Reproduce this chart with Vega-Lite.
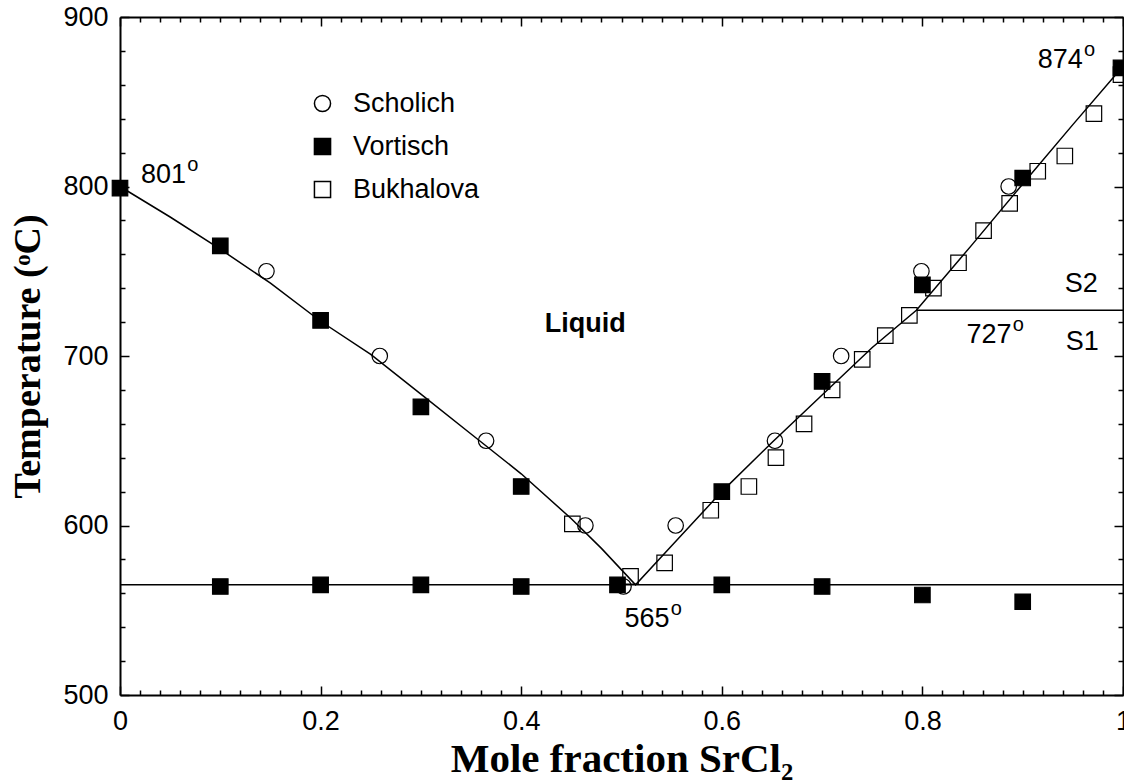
{
  "$schema": "https://vega.github.io/schema/vega-lite/v6.json",
  "width": 1003,
  "height": 678,
  "autosize": "none",
  "padding": {"left": 120, "top": 17, "right": 1, "bottom": 85},
  "background": "white",
  "config": {"view": {"stroke": null}},
  "datasets": {
    "liquidus": [
      {"x": 0, "t": 800}, {"x": 0.05, "t": 782}, {"x": 0.1, "t": 763}, {"x": 0.15, "t": 743},
      {"x": 0.2, "t": 720.5}, {"x": 0.25, "t": 701}, {"x": 0.3, "t": 677.5}, {"x": 0.35, "t": 654},
      {"x": 0.4, "t": 630.5}, {"x": 0.45, "t": 604}, {"x": 0.48, "t": 586.5}, {"x": 0.514, "t": 565},
      {"x": 0.55, "t": 588}, {"x": 0.6, "t": 620}, {"x": 0.65, "t": 649}, {"x": 0.7, "t": 677},
      {"x": 0.75, "t": 705}, {"x": 0.794, "t": 727}, {"x": 0.85, "t": 766}, {"x": 0.9, "t": 801.5},
      {"x": 0.95, "t": 836.5}, {"x": 1, "t": 871}
    ],
    "segments": [
      {"x": 0, "x2": 1, "t": 565},
      {"x": 0.794, "x2": 1, "t": 727}
    ],
    "points": [
      {"source": "Scholich", "x": 0.146, "t": 750},
      {"source": "Scholich", "x": 0.259, "t": 700},
      {"source": "Scholich", "x": 0.365, "t": 650},
      {"source": "Scholich", "x": 0.464, "t": 600},
      {"source": "Scholich", "x": 0.502, "t": 564},
      {"source": "Scholich", "x": 0.554, "t": 600},
      {"source": "Scholich", "x": 0.653, "t": 650},
      {"source": "Scholich", "x": 0.719, "t": 700},
      {"source": "Scholich", "x": 0.799, "t": 750},
      {"source": "Scholich", "x": 0.886, "t": 800},
      {"source": "Vortisch", "x": 0, "t": 799},
      {"source": "Vortisch", "x": 0.1, "t": 765},
      {"source": "Vortisch", "x": 0.2, "t": 721},
      {"source": "Vortisch", "x": 0.3, "t": 670},
      {"source": "Vortisch", "x": 0.4, "t": 623},
      {"source": "Vortisch", "x": 0.6, "t": 620},
      {"source": "Vortisch", "x": 0.7, "t": 685},
      {"source": "Vortisch", "x": 0.8, "t": 742},
      {"source": "Vortisch", "x": 0.9, "t": 805},
      {"source": "Vortisch", "x": 0.998, "t": 870},
      {"source": "Vortisch", "x": 0.1, "t": 564},
      {"source": "Vortisch", "x": 0.2, "t": 565},
      {"source": "Vortisch", "x": 0.3, "t": 565},
      {"source": "Vortisch", "x": 0.4, "t": 564},
      {"source": "Vortisch", "x": 0.496, "t": 565},
      {"source": "Vortisch", "x": 0.6, "t": 565},
      {"source": "Vortisch", "x": 0.7, "t": 564},
      {"source": "Vortisch", "x": 0.8, "t": 559},
      {"source": "Vortisch", "x": 0.9, "t": 555},
      {"source": "Bukhalova", "x": 0.451, "t": 601},
      {"source": "Bukhalova", "x": 0.509, "t": 570},
      {"source": "Bukhalova", "x": 0.543, "t": 578},
      {"source": "Bukhalova", "x": 0.589, "t": 609},
      {"source": "Bukhalova", "x": 0.627, "t": 623},
      {"source": "Bukhalova", "x": 0.654, "t": 640},
      {"source": "Bukhalova", "x": 0.682, "t": 660},
      {"source": "Bukhalova", "x": 0.71, "t": 680},
      {"source": "Bukhalova", "x": 0.74, "t": 698},
      {"source": "Bukhalova", "x": 0.763, "t": 712},
      {"source": "Bukhalova", "x": 0.787, "t": 724},
      {"source": "Bukhalova", "x": 0.811, "t": 740},
      {"source": "Bukhalova", "x": 0.836, "t": 755},
      {"source": "Bukhalova", "x": 0.861, "t": 774},
      {"source": "Bukhalova", "x": 0.887, "t": 790},
      {"source": "Bukhalova", "x": 0.915, "t": 809},
      {"source": "Bukhalova", "x": 0.942, "t": 818},
      {"source": "Bukhalova", "x": 0.971, "t": 843},
      {"source": "Bukhalova", "x": 0.998, "t": 866}
    ],
    "labels": [
      {"x": 0.021, "t": 802, "label": "801"},
      {"x": 0.915, "t": 870, "label": "874"},
      {"x": 0.503, "t": 540.3, "label": "565"},
      {"x": 0.844, "t": 707.7, "label": "727"},
      {"x": 0.942, "t": 737.8, "label": "S2"},
      {"x": 0.943, "t": 703.5, "label": "S1"}
    ],
    "degrees": [
      {"x": 0.0671, "t": 802, "label": "o"},
      {"x": 0.9611, "t": 870, "label": "o"},
      {"x": 0.5491, "t": 540.3, "label": "o"},
      {"x": 0.8901, "t": 707.7, "label": "o"}
    ],
    "liquid": [
      {"x": 0.4234, "t": 714.2, "label": "Liquid"}
    ]
  },
  "resolve": {"axis": {"x": "independent", "y": "independent"}},
  "layer": [
    {
      "data": {"name": "liquidus"},
      "mark": {"type": "line", "color": "black", "strokeWidth": 1.5},
      "encoding": {
        "x": {
          "field": "x", "type": "quantitative",
          "scale": {"domain": [0, 1], "nice": false, "zero": false},
          "axis": {
            "orient": "bottom",
            "values": [0,0.02,0.04,0.06,0.08,0.1,0.12,0.14,0.16,0.18,0.2,0.22,0.24,0.26,0.28,0.3,0.32,0.34,0.36,0.38,0.4,0.42,0.44,0.46,0.48,0.5,0.52,0.54,0.56,0.58,0.6,0.62,0.64,0.66,0.68,0.7,0.72,0.74,0.76,0.78,0.8,0.82,0.84,0.86,0.88,0.9,0.92,0.94,0.96,0.98,1],
            "labelExpr": "abs(datum.value*5-round(datum.value*5))<0.000001 ? format(datum.value, '~g') : ''",
            "tickSize": {"condition": {"test": "abs(datum.value*5-round(datum.value*5))<0.000001", "value": -9}, "value": -5},
            "tickWidth": 1.5, "tickColor": "black",
            "domain": true, "domainColor": "black", "domainWidth": 2,
            "grid": false,
            "labelFont": "Liberation Sans", "labelFontSize": 27, "labelColor": "black",
            "labelPadding": 22, "labelFlush": false, "labelOverlap": false, "labelBound": false,
            "title": "Mole fraction SrCl₂",
            "titleFont": "Liberation Serif", "titleFontSize": 41, "titleFontWeight": "bold", "titleColor": "black",
            "titlePadding": 1
          }
        },
        "y": {
          "field": "t", "type": "quantitative",
          "scale": {"domain": [500, 900], "nice": false, "zero": false},
          "axis": {
            "orient": "left",
            "values": [500,520,540,560,580,600,620,640,660,680,700,720,740,760,780,800,820,840,860,880,900],
            "labelExpr": "datum.value % 100 === 0 ? format(datum.value, 'd') : ''",
            "tickSize": {"condition": {"test": "datum.value % 100 === 0", "value": -9}, "value": -5},
            "tickWidth": 1.5, "tickColor": "black",
            "domain": true, "domainColor": "black", "domainWidth": 2,
            "grid": false,
            "labelFont": "Liberation Sans", "labelFontSize": 27, "labelColor": "black",
            "labelPadding": 21, "labelFlush": false, "labelOverlap": false, "labelBound": false,
            "title": "Temperature (ᵒC)",
            "titleFont": "Liberation Serif", "titleFontSize": 38, "titleFontWeight": "bold", "titleColor": "black",
            "titlePadding": 15
          }
        }
      }
    },
    {
      "data": {"name": "segments"},
      "mark": {"type": "rule", "color": "black", "strokeWidth": 1.5},
      "encoding": {
        "x": {"field": "x", "type": "quantitative", "scale": {"domain": [0, 1]}, "axis": null},
        "x2": {"field": "x2"},
        "y": {"field": "t", "type": "quantitative", "scale": {"domain": [500, 900]}, "axis": null}
      }
    },
    {
      "data": {"name": "points"},
      "mark": {"type": "point", "filled": true, "opacity": 1, "stroke": "black", "strokeWidth": 1.2, "size": 240},
      "encoding": {
        "x": {
          "field": "x", "type": "quantitative", "scale": {"domain": [0, 1]},
          "axis": {
            "orient": "top",
            "values": [0,0.02,0.04,0.06,0.08,0.1,0.12,0.14,0.16,0.18,0.2,0.22,0.24,0.26,0.28,0.3,0.32,0.34,0.36,0.38,0.4,0.42,0.44,0.46,0.48,0.5,0.52,0.54,0.56,0.58,0.6,0.62,0.64,0.66,0.68,0.7,0.72,0.74,0.76,0.78,0.8,0.82,0.84,0.86,0.88,0.9,0.92,0.94,0.96,0.98,1],
            "labels": false, "title": null, "grid": false,
            "tickSize": {"condition": {"test": "abs(datum.value*5-round(datum.value*5))<0.000001", "value": -9}, "value": -5},
            "tickWidth": 1.5, "tickColor": "black",
            "domain": true, "domainColor": "black", "domainWidth": 2
          }
        },
        "y": {
          "field": "t", "type": "quantitative", "scale": {"domain": [500, 900]},
          "axis": {
            "orient": "right",
            "values": [500,520,540,560,580,600,620,640,660,680,700,720,740,760,780,800,820,840,860,880,900],
            "labels": false, "title": null, "grid": false,
            "tickSize": {"condition": {"test": "datum.value % 100 === 0", "value": -9}, "value": -5},
            "tickWidth": 1.5, "tickColor": "black",
            "domain": true, "domainColor": "black", "domainWidth": 2
          }
        },
        "shape": {
          "field": "source", "type": "nominal",
          "scale": {"domain": ["Scholich", "Vortisch", "Bukhalova"], "range": ["circle", "square", "square"]},
          "legend": {
            "orient": "none", "legendX": 189, "legendY": 73, "title": null, "padding": 0,
            "labelFont": "Liberation Sans", "labelFontSize": 27, "labelColor": "black",
            "labelOffset": 17, "rowPadding": 15, "symbolSize": 260,
            "encode": {"symbols": {"update": {"stroke": {"value": "black"}, "strokeWidth": {"value": 1.2}}}}
          }
        },
        "fill": {
          "field": "source", "type": "nominal",
          "scale": {"domain": ["Scholich", "Vortisch", "Bukhalova"], "range": ["transparent", "black", "transparent"]},
          "legend": {
            "orient": "none", "legendX": 189, "legendY": 73, "title": null, "padding": 0,
            "labelFont": "Liberation Sans", "labelFontSize": 27, "labelColor": "black",
            "labelOffset": 17, "rowPadding": 15, "symbolSize": 260,
            "encode": {"symbols": {"update": {"stroke": {"value": "black"}, "strokeWidth": {"value": 1.2}}}}
          }
        }
      }
    },
    {
      "data": {"name": "labels"},
      "mark": {"type": "text", "align": "left", "baseline": "alphabetic", "font": "Liberation Sans", "fontSize": 27, "color": "black"},
      "encoding": {
        "x": {"field": "x", "type": "quantitative", "scale": {"domain": [0, 1]}, "axis": null},
        "y": {"field": "t", "type": "quantitative", "scale": {"domain": [500, 900]}, "axis": null},
        "text": {"field": "label"}
      }
    },
    {
      "data": {"name": "degrees"},
      "mark": {"type": "text", "align": "left", "baseline": "alphabetic", "font": "Liberation Sans", "fontSize": 20, "dy": -12, "color": "black"},
      "encoding": {
        "x": {"field": "x", "type": "quantitative", "scale": {"domain": [0, 1]}, "axis": null},
        "y": {"field": "t", "type": "quantitative", "scale": {"domain": [500, 900]}, "axis": null},
        "text": {"field": "label"}
      }
    },
    {
      "data": {"name": "liquid"},
      "mark": {"type": "text", "align": "left", "baseline": "alphabetic", "font": "Liberation Sans", "fontSize": 27, "fontWeight": "bold", "color": "black"},
      "encoding": {
        "x": {"field": "x", "type": "quantitative", "scale": {"domain": [0, 1]}, "axis": null},
        "y": {"field": "t", "type": "quantitative", "scale": {"domain": [500, 900]}, "axis": null},
        "text": {"field": "label"}
      }
    }
  ]
}
